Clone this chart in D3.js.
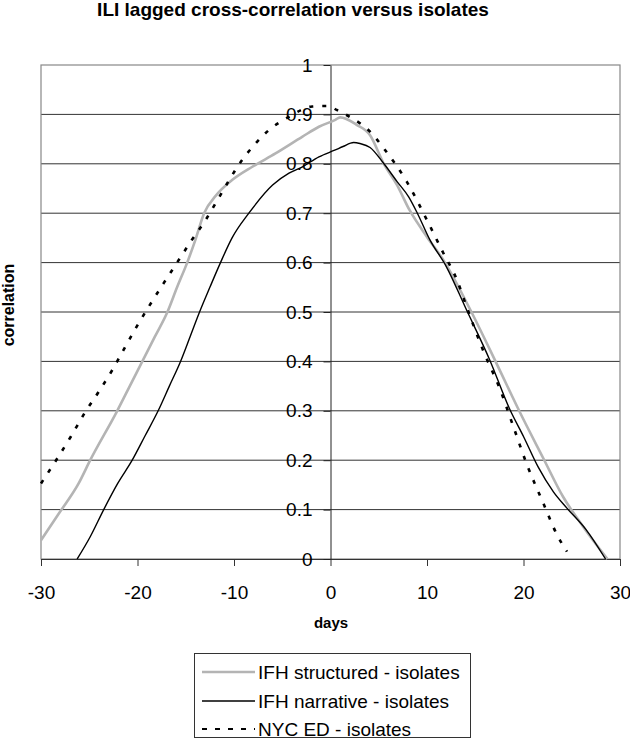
<!DOCTYPE html>
<html>
<head>
<meta charset="utf-8">
<script src="https://cdn.jsdelivr.net/npm/d3@7/dist/d3.min.js"></script>
<style>
  html, body { margin: 0; padding: 0; background: #fff; }
  svg { display: block; font-family: "Liberation Sans", Arial, sans-serif; }
</style>
</head>
<body>
<svg id="chart" width="630" height="747"></svg>
<script>
// ---- data ----
const title = "ILI lagged cross-correlation versus isolates";
const xLabel = "days";
const yLabel = "correlation";
const xTicks = [-30, -20, -10, 0, 10, 20, 30];
const yTicks = [0, 0.1, 0.2, 0.3, 0.4, 0.5, 0.6, 0.7, 0.8, 0.9, 1];
const seriesNames = ["IFH structured - isolates", "IFH narrative - isolates", "NYC ED - isolates"];

const structuredDays = [-30, -28.15, -26.1, -24.9, -22.1, -20.8, -19.5, -18.2, -16.9, -15.9, -14.85, -14.0, -13.1, -11.9, -10.2, -8.1, -5.7, -2.9, -1.2, 0.5, 1.0, 2.7, 4.1, 5.5, 6.9, 8.2, 10.0, 11.7, 14.5, 17.2, 19.6, 22.05, 24.1, 26.2, 28.7];
const structuredVals = [0.038, 0.092, 0.153, 0.2, 0.3, 0.35, 0.4, 0.45, 0.5, 0.55, 0.6, 0.646, 0.7, 0.735, 0.767, 0.794, 0.821, 0.855, 0.875, 0.889, 0.894, 0.879, 0.858, 0.801, 0.757, 0.706, 0.652, 0.605, 0.504, 0.396, 0.298, 0.204, 0.126, 0.065, 0];

const narrativeDays = [-26.25, -24.9, -23.5, -22.05, -20.55, -19.2, -17.86, -16.7, -15.54, -14.55, -13.57, -12.5, -11.4, -10.2, -8.46, -6.0, -4.3, -2.9, -1.2, 0.5, 1.3, 2.4, 3.05, 4.1, 5.5, 6.9, 8.1, 9.0, 10.3, 12.0, 14.1, 16.5, 18.6, 20.0, 21.5, 23.1, 24.5, 26.5, 28.5];
const narrativeVals = [0, 0.045, 0.1, 0.153, 0.2, 0.25, 0.3, 0.35, 0.4, 0.45, 0.5, 0.55, 0.6, 0.65, 0.7, 0.757, 0.781, 0.794, 0.814, 0.828, 0.835, 0.843, 0.841, 0.833, 0.801, 0.764, 0.733, 0.7, 0.646, 0.592, 0.504, 0.403, 0.302, 0.248, 0.187, 0.136, 0.103, 0.059, 0];

const nycDays = [-30, -28.3, -26.9, -25.4, -24.0, -22.6, -21.4, -20.1, -18.7, -17.3, -15.9, -14.4, -12.95, -11.7, -10.5, -9.15, -7.9, -6.4, -4.3, -1.9, -0.2, 0.64, 2.0, 4.1, 5.65, 7.9, 10.0, 11.7, 13.1, 14.1, 15.8, 17.6, 18.95, 20.3, 22.05, 23.4, 24.5];
const nycVals = [0.153, 0.204, 0.248, 0.298, 0.339, 0.383, 0.425, 0.47, 0.515, 0.558, 0.6, 0.645, 0.686, 0.727, 0.767, 0.808, 0.838, 0.868, 0.895, 0.916, 0.917, 0.909, 0.895, 0.865, 0.828, 0.764, 0.686, 0.619, 0.565, 0.511, 0.423, 0.342, 0.268, 0.194, 0.113, 0.052, 0.015];

// ---- layout ----
const svg = d3.select("#chart");
const plot = { left: 41, right: 620, top: 65, bottom: 559 };

const x = d3.scaleLinear().domain([-30, 30]).range([plot.left, plot.right]);
const y = d3.scaleLinear().domain([0, 1]).range([plot.bottom, plot.top]);

const styles = [
  { stroke: "#b4b4b4", width: 2.6, dash: null },
  { stroke: "#000000", width: 1.4, dash: null },
  { stroke: "#000000", width: 2.6, dash: "4,9" }
];
const series = [
  structuredDays.map((d, i) => [d, structuredVals[i]]),
  narrativeDays.map((d, i) => [d, narrativeVals[i]]),
  nycDays.map((d, i) => [d, nycVals[i]])
];

// title
svg.append("text")
  .attr("x", 293).attr("y", 16)
  .attr("text-anchor", "middle")
  .attr("font-size", 19).attr("font-weight", "bold")
  .text(title);

// gridlines
svg.append("g")
  .selectAll("line")
  .data(yTicks.filter(t => t > 0 && t < 1))
  .join("line")
  .attr("x1", plot.left).attr("x2", plot.right)
  .attr("y1", d => y(d)).attr("y2", d => y(d))
  .attr("stroke", "#333").attr("stroke-width", 1);

// plot border
svg.append("rect")
  .attr("x", plot.left).attr("y", plot.top)
  .attr("width", plot.right - plot.left).attr("height", plot.bottom - plot.top)
  .attr("fill", "none").attr("stroke", "#888").attr("stroke-width", 1.2);

// x axis at y=0
const xAxis = d3.axisBottom(x).tickValues(xTicks).tickSize(7).tickSizeOuter(0).tickPadding(20)
  .tickFormat(d => String(d));
const gx = svg.append("g").attr("transform", `translate(0,${y(0)})`).call(xAxis);
gx.select(".domain").attr("stroke", "#333");
gx.selectAll(".tick line").attr("stroke", "#333");
gx.selectAll("text").attr("font-size", 19).attr("font-family", "Liberation Sans, Arial, sans-serif").attr("fill", "#000");

// y axis at x=0
const yAxis = d3.axisLeft(y).tickValues(yTicks).tickSize(7).tickSizeOuter(0).tickPadding(11)
  .tickFormat(d => String(+d.toFixed(1)));
const gy = svg.append("g").attr("transform", `translate(${x(0)},0)`).call(yAxis);
gy.select(".domain").attr("stroke", "#222");
gy.selectAll(".tick line").attr("stroke", "#222");
gy.selectAll("text").attr("font-size", 19).attr("font-family", "Liberation Sans, Arial, sans-serif").attr("fill", "#000");

// lines
const line = d3.line().x(d => x(d[0])).y(d => y(d[1])).curve(d3.curveMonotoneX);
series.forEach((s, i) => {
  svg.append("path")
    .datum(s)
    .attr("d", line)
    .attr("fill", "none")
    .attr("stroke", styles[i].stroke)
    .attr("stroke-width", styles[i].width)
    .attr("stroke-dasharray", styles[i].dash);
});

// axis labels
svg.append("text")
  .attr("x", 331).attr("y", 628)
  .attr("text-anchor", "middle")
  .attr("font-size", 15).attr("font-weight", "bold")
  .text(xLabel);

svg.append("text")
  .attr("transform", "translate(14,305) rotate(-90)")
  .attr("text-anchor", "middle")
  .attr("font-size", 16).attr("font-weight", "bold")
  .text(yLabel);

// legend
const lg = svg.append("g");
lg.append("rect")
  .attr("x", 194.5).attr("y", 653.5).attr("width", 276).attr("height", 84)
  .attr("fill", "#fff").attr("stroke", "#333").attr("stroke-width", 1);
const rowY = [672, 701, 729];
seriesNames.forEach((name, i) => {
  lg.append("line")
    .attr("x1", 202).attr("x2", 255)
    .attr("y1", rowY[i]).attr("y2", rowY[i])
    .attr("stroke", styles[i].stroke)
    .attr("stroke-width", i === 2 ? 2 : styles[i].width)
    .attr("stroke-dasharray", i === 2 ? "5,8" : null);
  lg.append("text")
    .attr("x", 258).attr("y", rowY[i]).attr("dy", "0.35em")
    .attr("font-size", 19)
    .text(name);
});
</script>
</body>
</html>
